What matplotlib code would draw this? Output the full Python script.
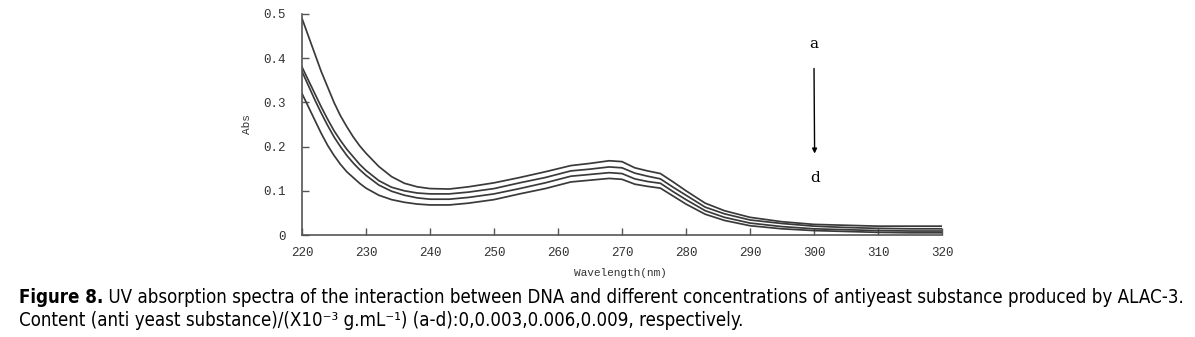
import matplotlib
matplotlib.use('Agg')
import matplotlib.pyplot as plt

# wavelength grid (nm) and absorbance of curves a-d
wavelength = [220, 221, 222, 223, 224, 225, 226, 227, 228, 229, 230, 232, 234, 236, 238, 240,
              243, 246, 250, 254, 258, 262, 265, 268, 270, 272, 274, 276, 278, 280, 283, 286,
              290, 295, 300, 305, 310, 315, 320]
abs_a = [0.49, 0.45, 0.41, 0.37, 0.335, 0.30, 0.27, 0.245, 0.222, 0.202, 0.185, 0.155, 0.132, 0.117,
         0.109, 0.105, 0.104, 0.109, 0.118, 0.13, 0.143, 0.157, 0.162, 0.168, 0.166, 0.152, 0.145,
         0.139, 0.12, 0.1, 0.072, 0.055, 0.04, 0.03, 0.024, 0.022, 0.02, 0.02, 0.02]
abs_b = [0.38, 0.35, 0.32, 0.29, 0.262, 0.236, 0.214, 0.194, 0.177, 0.16, 0.146, 0.123, 0.108, 0.1,
         0.095, 0.093, 0.093, 0.097, 0.105, 0.118, 0.13, 0.145, 0.149, 0.154, 0.152, 0.14, 0.133,
         0.127, 0.108, 0.09, 0.063, 0.048, 0.034, 0.026, 0.02, 0.017, 0.015, 0.014, 0.014]
abs_c = [0.37, 0.338, 0.306, 0.276, 0.248, 0.222, 0.2, 0.18, 0.163, 0.148, 0.135, 0.113, 0.099, 0.09,
         0.084, 0.081, 0.081, 0.085, 0.093, 0.105, 0.118, 0.133, 0.137, 0.141, 0.139, 0.127, 0.121,
         0.117, 0.098, 0.08, 0.055, 0.04, 0.027, 0.019, 0.014, 0.012, 0.01, 0.009, 0.009]
abs_d = [0.32, 0.29, 0.26, 0.23, 0.203, 0.18, 0.16, 0.143, 0.13, 0.117, 0.106, 0.09, 0.08, 0.074,
         0.07, 0.068, 0.068, 0.072, 0.08, 0.093, 0.105, 0.12, 0.124, 0.128, 0.126, 0.115, 0.11,
         0.106, 0.088, 0.07, 0.047, 0.033, 0.021, 0.014, 0.01, 0.008, 0.006, 0.005, 0.005]

x_ticks = [220, 230, 240, 250, 260, 270, 280, 290, 300, 310, 320]
y_ticks = [0, 0.1, 0.2, 0.3, 0.4, 0.5]
y_tick_labels = ['0', '0.1', '0.2', '0.3', '0.4', '0.5']

caption_bold = 'Figure 8.'
caption_line1 = (' UV absorption spectra of the interaction between DNA and different '
                 'concentrations of antiyeast substance produced by ALAC-3.')
caption_line2 = 'Content (anti yeast substance)/(X10⁻³ g.mL⁻¹) (a-d):0,0.003,0.006,0.009, respectively.'

mono = 'Liberation Mono'
cap_font = ['DejaVu Sans']

fig = plt.figure(figsize=(11.95, 3.37), dpi=100)
ax = fig.add_axes([302 / 1195, 1 - 235 / 337, 640 / 1195, 221 / 337])

for y in [abs_a, abs_b, abs_c, abs_d]:
    ax.plot(wavelength, y, color='#3a3a3a', lw=1.25)

ax.set_xlim(220, 320)
ax.set_ylim(0, 0.5)
ax.set_xticks(x_ticks)
ax.set_xticklabels([str(t) for t in x_ticks], family=mono, fontsize=9, color='#333333')
ax.set_yticks(y_ticks)
ax.set_yticklabels(y_tick_labels, family=mono, fontsize=9, color='#333333')
ax.tick_params(direction='in', length=5, width=1, color='#555555')
ax.tick_params(axis='x', pad=9)
ax.tick_params(axis='y', pad=12)
for s in ['top', 'right']:
    ax.spines[s].set_visible(False)
for s in ['left', 'bottom']:
    ax.spines[s].set_color('#555555')
    ax.spines[s].set_linewidth(1.2)

ax.set_ylabel('Abs', family=mono, fontsize=8, color='#333333')
ax.yaxis.set_label_coords(-0.078, 0.5)
ax.set_xlabel('Wavelength(nm)', family=mono, fontsize=8, color='#333333')
ax.xaxis.set_label_coords(0.497, -0.15)

ax.text(300, 0.432, 'a', family='DejaVu Serif', fontsize=11, ha='center', va='center')
ax.text(300.2, 0.128, 'd', family='DejaVu Serif', fontsize=11, ha='center', va='center')
ax.annotate('', xy=(300.1, 0.178), xytext=(300, 0.383),
            arrowprops=dict(arrowstyle='-|>', color='black', lw=1, mutation_scale=7))

t1 = fig.text(19 / 1195, 1 - 303 / 337, caption_bold, family=cap_font, fontweight='bold',
              fontstretch='condensed', fontsize=13.4, va='baseline')
ax.annotate(caption_line1, xy=(1, 0), xycoords=t1, va='bottom', family=cap_font,
            fontstretch='condensed', fontsize=13.4, annotation_clip=False)
fig.text(19 / 1195, 1 - 326 / 337, caption_line2, family=cap_font, fontstretch='condensed',
         fontsize=13.4, va='baseline')

fig.savefig('out.png', dpi=100)
